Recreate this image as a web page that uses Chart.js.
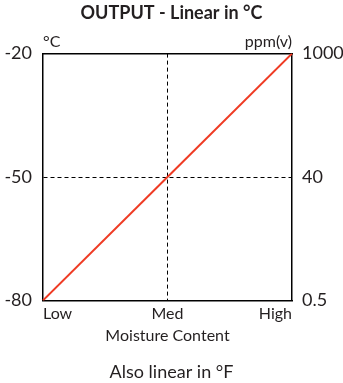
<!DOCTYPE html>
<html>
<head>
<meta charset="utf-8">
<script src="https://cdn.jsdelivr.net/npm/chart.js@4"></script>
<style>
  html, body { margin: 0; padding: 0; background: #fff; }
  #wrap { width: 343px; height: 383px; }
</style>
</head>
<body>
<div id="wrap"><canvas id="chart"></canvas></div>
<script>
  // data
  const moisture = ['Low', 'Med', 'High'];
  const outputC = [-80, -50, -20];
  const celsiusTicks = [-80, -50, -20];
  const ppmTicks = ['0.5', '40', '1000'];
  const topLabels = ['°C', '', 'ppm(v)'];

  const FONT = 'Lato';
  const TXT = '#231f20';
  const RED = '#ef3b24';

  Chart.defaults.font.family = FONT;
  Chart.defaults.color = TXT;

  new Chart(document.getElementById('chart'), {
    type: 'line',
    data: {
      labels: moisture,
      datasets: [{
        data: outputC, borderColor: RED, borderWidth: 2, pointRadius: 0, tension: 0, yAxisID: 'y', xAxisID: 'x'
      }]
    },
    options: {
      responsive: true, maintainAspectRatio: false, animation: false,
      layout: { padding: 0 },
      plugins: {
        legend: { display: false },
        tooltip: { enabled: false },
        title: { display: true, text: 'OUTPUT - Linear in °C', color: TXT, font: { size: 18, weight: 'bold' }, padding: { top: 2, bottom: 4 } },
        subtitle: { display: true, position: 'bottom', text: 'Also linear in °F', color: TXT, font: { size: 18 }, padding: { top: 16, bottom: 0 } }
      },
      scales: {
        x: {
          type: 'category', offset: false,
          grid: { drawTicks: false, color: c => c.index === 1 ? '#000' : 'rgba(0,0,0,0)', lineWidth: 1 },
          border: { display: true, color: '#000', width: 1.5, dash: [4, 3] },
          ticks: { align: 'inner', padding: 4, font: { size: 16 } },
          title: { display: true, text: 'Moisture Content', font: { size: 16 }, padding: { top: 2, bottom: 0 } },
          afterFit: s => { s.height = 45; }
        },
        xTop: {
          type: 'category', position: 'top', labels: topLabels, offset: false,
          grid: { display: false, drawTicks: false },
          border: { display: true, color: '#000', width: 1.5 },
          ticks: { align: 'inner', padding: 2, font: { size: 16 }, autoSkip: false },
          afterFit: s => { s.height = 26; }
        },
        y: {
          type: 'linear', position: 'left', min: celsiusTicks[0], max: celsiusTicks[2],
          afterBuildTicks: s => { s.ticks = celsiusTicks.map(v => ({ value: v })); },
          grid: { drawTicks: false, color: c => c.tick && c.tick.value === celsiusTicks[1] ? '#000' : 'rgba(0,0,0,0)', lineWidth: 1 },
          border: { display: true, color: '#000', width: 1.5, dash: [4, 3] },
          ticks: { padding: 11, font: { size: 18 } },
          afterFit: s => { s.width = 43; }
        },
        yR: {
          type: 'linear', position: 'right', min: 0, max: 2,
          afterBuildTicks: s => { s.ticks = ppmTicks.map((t, i) => ({ value: i })); },
          grid: { display: false, drawTicks: false },
          border: { display: true, color: '#000', width: 1.5 },
          ticks: { padding: 10, font: { size: 18 }, callback: v => ppmTicks[v] },
          afterFit: s => { s.width = 51; }
        }
      }
    }
  });
</script>
</body>
</html>
